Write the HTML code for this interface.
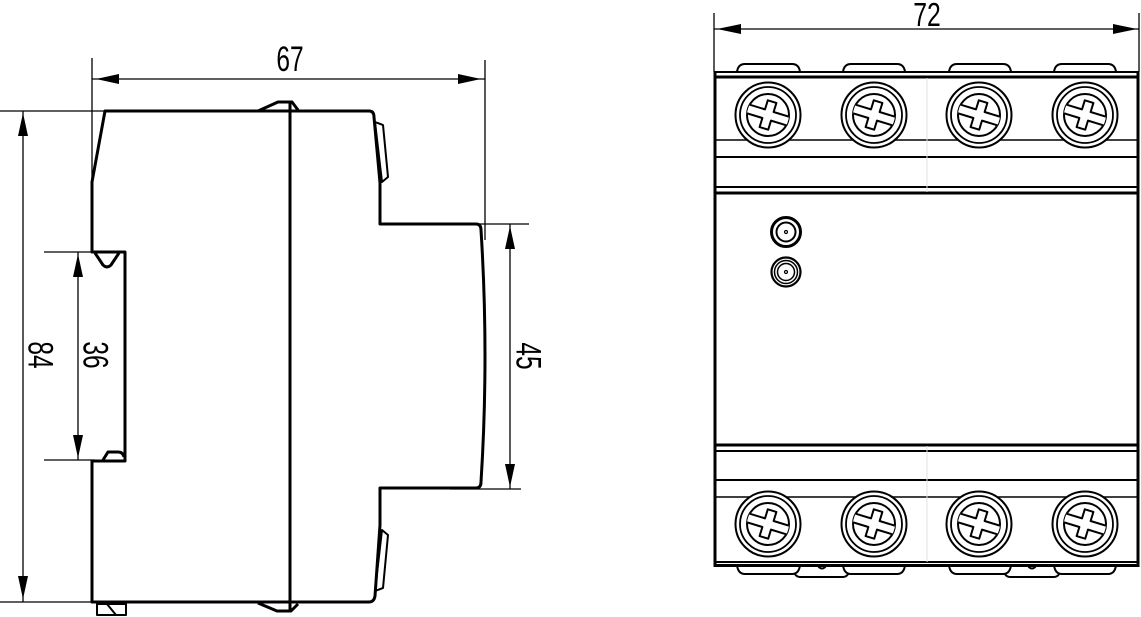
<!DOCTYPE html>
<html><head><meta charset="utf-8"><style>
html,body{margin:0;padding:0;background:#fff;}
svg{display:block;}
text{font-family:"Liberation Sans",sans-serif;font-size:35px;fill:#000;}
</style></head><body>
<svg width="1141" height="617" viewBox="0 0 1141 617" xmlns="http://www.w3.org/2000/svg">
<defs>
<clipPath id="sc"><circle cx="0" cy="0" r="21"/></clipPath>
<g id="screw">
  <circle cx="0" cy="0" r="32.5" fill="#fff" stroke="#000" stroke-width="2"/>
  <circle cx="0" cy="0" r="28" fill="none" stroke="#000" stroke-width="1.8"/>
  <circle cx="0" cy="0" r="21" fill="none" stroke="#000" stroke-width="2"/>
  <g clip-path="url(#sc)">
    <polygon transform="rotate(17)" points="-24,-4.5 -4.5,-4.5 -4.5,-14 4.5,-14 4.5,-4.5 24,-4.5 24,4.5 4.5,4.5 4.5,14 -4.5,14 -4.5,4.5 -24,4.5" fill="#fff" stroke="#000" stroke-width="2" stroke-linejoin="round"/>
  </g>
</g>
</defs>

<!-- ============ LEFT VIEW ============ -->
<g fill="none" stroke="#000" stroke-width="3" stroke-linejoin="round">
  <path d="M105,111 L369,111 Q374,111 374,117 L380,183 L380,224 L476,224 Q481,224 481,230 Q489,356 481,482 Q481,488 476,488 L380,488 L380,525 L375,596 Q374,602 369,602 L92,602 L92,461 L125,461 L125,252 L92,252 L92,182 Z"/>
  <line x1="290" y1="102" x2="290" y2="611"/>
  <path d="M258,111 L278,102 L292,102 L298,110"/>
  <path d="M258,603 L277,611 L291,611 L298,604"/>
  <path d="M95,253 L103,265 Q107,269 111,265 L119,253"/>
  <path d="M103,460 L108,452 L118,452 Q123,452 124,457"/>
</g>
<g fill="none" stroke="#000" stroke-width="2" stroke-linejoin="round">
  <polygon points="375,122 383,125 388,177 382,182"/>
  <polygon points="382,530 388,535 383,588 375,591"/>
  <rect x="97" y="604" width="29" height="11"/>
  <line x1="107" y1="604" x2="116" y2="615"/>
</g>

<!-- dimension lines left -->
<g stroke="#000" stroke-width="1.3" fill="none">
  <line x1="92" y1="58" x2="92" y2="185"/>
  <line x1="485" y1="60" x2="485" y2="240"/>
  <line x1="92" y1="79" x2="485" y2="79"/>
  <line x1="0" y1="111" x2="105" y2="111"/>
  <line x1="0" y1="602" x2="92" y2="602"/>
  <line x1="23" y1="111" x2="23" y2="602"/>
  <line x1="44" y1="252" x2="92" y2="252"/>
  <line x1="44" y1="460" x2="95" y2="460"/>
  <line x1="78" y1="252" x2="78" y2="460"/>
  <line x1="477" y1="224" x2="529" y2="224"/>
  <line x1="450" y1="489" x2="521" y2="489"/>
  <line x1="510" y1="224" x2="510" y2="489"/>
</g>
<g fill="#000" stroke="none">
  <polygon points="96,79 119,74 119,84"/>
  <polygon points="481,79 458,74 458,84"/>
  <polygon points="23,113 18,136 28,136"/>
  <polygon points="23,599 18,576 28,576"/>
  <polygon points="78,254 73,277 83,277"/>
  <polygon points="78,458 73,435 83,435"/>
  <polygon points="510,226 505,249 515,249"/>
  <polygon points="510,487 505,464 515,464"/>
</g>
<text transform="translate(290,71) scale(0.7,1)" text-anchor="middle">67</text>
<text transform="translate(41,355) rotate(90) scale(0.7,1)" text-anchor="middle" y="12.5">84</text>
<text transform="translate(96,355) rotate(90) scale(0.7,1)" text-anchor="middle" y="12.5">36</text>
<text transform="translate(529,356) rotate(90) scale(0.7,1)" text-anchor="middle" y="12.5">45</text>

<!-- ============ RIGHT VIEW ============ -->
<g stroke="#000" stroke-width="1.3" fill="none">
  <line x1="714" y1="13" x2="714" y2="72"/>
  <line x1="1139" y1="13" x2="1139" y2="72"/>
  <line x1="714" y1="29" x2="1139" y2="29"/>
</g>
<g fill="#000">
  <polygon points="717,29 741,24 741,34"/>
  <polygon points="1137,29 1113,24 1113,34"/>
</g>
<text transform="translate(927,26) scale(0.75,1)" text-anchor="middle" style="font-size:33px">72</text>

<g fill="none" stroke="#000" stroke-width="2" stroke-linejoin="round">
  <path d="M737,72 Q738,64 745,64 L792,64 Q799,64 800,72"/>
  <path d="M843,72 Q844,64 851,64 L897,64 Q904,64 905,72"/>
  <path d="M949,72 Q950,64 957,64 L1003,64 Q1010,64 1011,72"/>
  <path d="M1054,72 Q1055,64 1062,64 L1108,64 Q1115,64 1116,72"/>
  <path d="M792,566 Q794,577 800,577 L843,577 Q849,577 851,566"/>
  <path d="M1002,566 Q1004,577 1010,577 L1054,577 Q1060,577 1062,566"/>
  <path d="M737,565 Q738,574 745,574 L792,574 Q799,574 800,565" fill="#fff"/>
  <path d="M843,565 Q844,574 851,574 L897,574 Q904,574 905,565" fill="#fff"/>
  <path d="M949,565 Q950,574 957,574 L1003,574 Q1010,574 1011,565" fill="#fff"/>
  <path d="M1054,565 Q1055,574 1062,574 L1108,574 Q1115,574 1116,565" fill="#fff"/>
  <path d="M818,566 Q822,571 826,566"/>
  <path d="M1028,566 Q1032,571 1036,566"/>
</g>

<rect x="715" y="72" width="423" height="493" fill="#fff" stroke="none"/>
<g stroke="#000" fill="none">
  <line x1="715" y1="72" x2="1138" y2="72" stroke-width="2"/>
  <line x1="715" y1="77" x2="1138" y2="77" stroke-width="3"/>
  <line x1="715" y1="140" x2="1138" y2="140" stroke-width="1.5"/>
  <line x1="715" y1="157" x2="1138" y2="157" stroke-width="2"/>
  <line x1="715" y1="187" x2="1138" y2="187" stroke-width="2"/>
  <line x1="715" y1="193" x2="1138" y2="193" stroke-width="3"/>
  <line x1="715" y1="445" x2="1138" y2="445" stroke-width="3"/>
  <line x1="715" y1="451" x2="1138" y2="451" stroke-width="2"/>
  <line x1="715" y1="480" x2="1138" y2="480" stroke-width="2"/>
  <line x1="715" y1="497" x2="1138" y2="497" stroke-width="1.5"/>
  <line x1="715" y1="562" x2="1138" y2="562" stroke-width="2"/>
  <line x1="715" y1="565.5" x2="1138" y2="565.5" stroke-width="3"/>
  <line x1="715" y1="71" x2="715" y2="567" stroke-width="3"/>
  <line x1="1138" y1="71" x2="1138" y2="567" stroke-width="3"/>
  <line x1="927" y1="78" x2="927" y2="192" stroke-width="1" stroke="#e2e2e2"/>
  <line x1="927" y1="446" x2="927" y2="562" stroke-width="1" stroke="#e2e2e2"/>
</g>

<use href="#screw" x="768" y="115"/>
<use href="#screw" x="874" y="115"/>
<use href="#screw" x="979" y="115"/>
<use href="#screw" x="1085" y="115"/>
<use href="#screw" x="768" y="524"/>
<use href="#screw" x="874" y="524"/>
<use href="#screw" x="979" y="524"/>
<use href="#screw" x="1085" y="524"/>

<g fill="none" stroke="#000">
  <circle cx="786" cy="232" r="14.5" stroke-width="3"/>
  <circle cx="786" cy="232" r="9.5" stroke-width="2"/>
  <circle cx="786" cy="232" r="1.5" stroke-width="1.2"/>
  <circle cx="786" cy="272" r="14.5" stroke-width="2.2"/>
  <circle cx="786" cy="272" r="11.5" stroke-width="1.5"/>
  <circle cx="786" cy="272" r="8.5" stroke-width="1.5"/>
  <circle cx="786" cy="272" r="1.5" stroke-width="1.2"/>
</g>
</svg>
</body></html>
